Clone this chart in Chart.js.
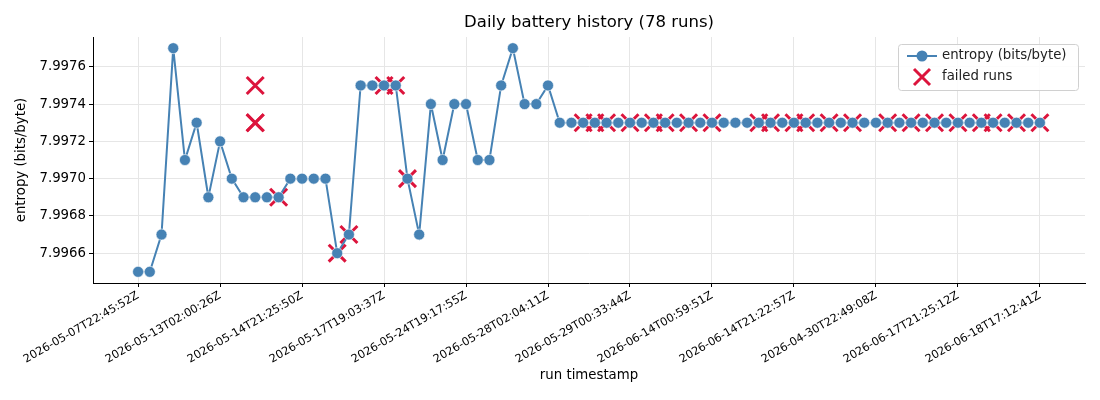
<!DOCTYPE html>
<html>
<head>
<meta charset="utf-8">
<title>Daily battery history</title>
<script src="https://cdn.jsdelivr.net/npm/chart.js@4.4.1/dist/chart.umd.min.js"></script>
<style>
  html, body { margin: 0; padding: 0; background: #fff; }
  #wrap { width: 1100px; height: 400px; position: relative; }
</style>
</head>
<body>
<div id="wrap"><canvas id="chart"></canvas></div>
<script>
// entropy per run, run index 0..77
var entropy = [
  7.9965, 7.9965, 7.9967, 7.9977, 7.9971, 7.9973, 7.9969, 7.9972, 7.9970, 7.9969,
  7.9969, 7.9969, 7.9969, 7.9970, 7.9970, 7.9970, 7.9970, 7.9966, 7.9967, 7.9975,
  7.9975, 7.9975, 7.9975, 7.9970, 7.9967, 7.9974, 7.9971, 7.9974, 7.9974, 7.9971,
  7.9971, 7.9975, 7.9977, 7.9974, 7.9974, 7.9975, 7.9973, 7.9973, 7.9973, 7.9973,
  7.9973, 7.9973, 7.9973, 7.9973, 7.9973, 7.9973, 7.9973, 7.9973, 7.9973, 7.9973,
  7.9973, 7.9973, 7.9973, 7.9973, 7.9973, 7.9973, 7.9973, 7.9973, 7.9973, 7.9973,
  7.9973, 7.9973, 7.9973, 7.9973, 7.9973, 7.9973, 7.9973, 7.9973, 7.9973, 7.9973,
  7.9973, 7.9973, 7.9973, 7.9973, 7.9973, 7.9973, 7.9973, 7.9973
];

// failed runs (run index + entropy where the cross sits)
var failedIdx = [10, 10, 10, 12, 17, 18, 21, 22, 23, 38, 39, 40, 42, 44, 45, 47, 49,
  53, 54, 56, 57, 59, 61, 64, 66, 68, 70, 72, 73, 75, 77];
var failedVal = [7.9975, 7.9973, 7.9973, 7.9969, 7.9966, 7.9967, 7.9975, 7.9975, 7.9970,
  7.9973, 7.9973, 7.9973, 7.9973, 7.9973, 7.9973, 7.9973, 7.9973,
  7.9973, 7.9973, 7.9973, 7.9973, 7.9973, 7.9973, 7.9973, 7.9973, 7.9973, 7.9973,
  7.9973, 7.9973, 7.9973, 7.9973];

// x tick labels, one every 7 runs
var tickRuns = [0, 7, 14, 21, 28, 35, 42, 49, 56, 63, 70, 77];
var tickLabels = [
  "2026-05-07T22:45:52Z", "2026-05-13T02:00:26Z", "2026-05-14T21:25:50Z",
  "2026-05-17T19:03:37Z", "2026-05-24T19:17:55Z", "2026-05-28T02:04:11Z",
  "2026-05-29T00:33:44Z", "2026-06-14T00:59:51Z", "2026-06-14T21:22:57Z",
  "2026-04-30T22:49:08Z", "2026-06-17T21:25:12Z", "2026-06-18T17:12:41Z"
];
var yTicks = [7.9966, 7.9968, 7.9970, 7.9972, 7.9974, 7.9976];

var chartTitle = "Daily battery history (78 runs)";

var FONT = "'DejaVu Sans', sans-serif";
var BLUE = "#4682b4";
var RED = "#dc143c";

var linePoints = entropy.map(function (v, i) { return { x: i, y: v }; });
var failPoints = failedIdx.map(function (ix, i) { return { x: ix, y: failedVal[i] }; });

// title centred over the axes + matplotlib-like legend box in the upper right
var boxLegend = {
  id: "boxLegend",
  afterDraw: function (chart) {
    var ctx = chart.ctx;
    var area = chart.chartArea;
    ctx.save();

    ctx.fillStyle = "#000";
    ctx.font = "16.5px " + FONT;
    ctx.textAlign = "center";
    ctx.textBaseline = "middle";
    ctx.fillText(chartTitle, (area.left + area.right) / 2, 23);
    ctx.textAlign = "left";

    var x0 = 898, y0 = 44, w = 180, h = 46;
    ctx.fillStyle = "rgba(255,255,255,0.85)";
    ctx.strokeStyle = "#d0d0d0";
    ctx.lineWidth = 1;
    ctx.beginPath();
    ctx.roundRect(x0 + 0.5, y0 + 0.5, w, h, 3);
    ctx.fill();
    ctx.stroke();

    // line + circle sample
    ctx.strokeStyle = BLUE;
    ctx.lineWidth = 2;
    ctx.beginPath();
    ctx.moveTo(907, 56);
    ctx.lineTo(937, 56);
    ctx.stroke();
    ctx.fillStyle = BLUE;
    ctx.beginPath();
    ctx.arc(922, 56, 5.5, 0, Math.PI * 2);
    ctx.fill();

    // cross sample
    ctx.strokeStyle = RED;
    ctx.lineWidth = 3;
    ctx.beginPath();
    ctx.moveTo(914, 69); ctx.lineTo(930, 85);
    ctx.moveTo(930, 69); ctx.lineTo(914, 85);
    ctx.stroke();

    ctx.fillStyle = "#222";
    ctx.font = "13.3px " + FONT;
    ctx.fillText("entropy (bits/byte)", 942, 56);
    ctx.fillText("failed runs", 942, 77);
    ctx.restore();
  }
};

new Chart(document.getElementById("chart"), {
  type: "line",
  data: {
    datasets: [
      {
        label: "entropy (bits/byte)",
        data: linePoints,
        borderColor: BLUE,
        backgroundColor: BLUE,
        borderWidth: 2,
        pointRadius: 5.5,
        pointBackgroundColor: BLUE,
        pointBorderColor: "#ffffff",
        pointBorderWidth: 0.6,
        tension: 0,
        order: 0
      },
      {
        type: "scatter",
        label: "failed runs",
        data: failPoints,
        showLine: false,
        pointStyle: "crossRot",
        pointRadius: 12,
        pointBorderWidth: 3,
        pointBorderColor: RED,
        borderColor: RED,
        backgroundColor: RED,
        order: 1
      }
    ]
  },
  options: {
    responsive: true,
    maintainAspectRatio: false,
    animation: false,
    layout: { padding: { left: 12, right: 15, top: 37, bottom: 14 } },
    plugins: {
      legend: { display: false },
      tooltip: { enabled: false },
      title: { display: false }
    },
    scales: {
      x: {
        type: "linear",
        min: -3.85,
        max: 80.85,
        afterBuildTicks: function (scale) {
          scale.ticks = tickRuns.map(function (v) { return { value: v }; });
        },
        afterFit: function (scale) { scale.height = 103; },
        ticks: {
          autoSkip: false,
          minRotation: 30,
          maxRotation: 30,
          color: "#000",
          padding: 2,
          font: { family: FONT, size: 11.3 },
          callback: function (v) {
            var k = tickRuns.indexOf(v);
            return k >= 0 ? tickLabels[k] : "";
          }
        },
        grid: { color: "#e6e6e6", tickColor: "#000", tickLength: 4, lineWidth: 1 },
        border: { display: true, color: "#000", width: 1 },
        title: {
          display: true,
          text: "run timestamp",
          color: "#000",
          font: { family: FONT, size: 13.3 },
          padding: { top: 2, bottom: 2 }
        }
      },
      y: {
        type: "linear",
        min: 7.99644,
        max: 7.99776,
        afterBuildTicks: function (scale) {
          scale.ticks = yTicks.map(function (v) { return { value: v }; });
        },
        afterFit: function (scale) { scale.width = 81; },
        ticks: {
          color: "#000",
          padding: 3,
          font: { family: FONT, size: 13.3 },
          callback: function (v) { return Number(v).toFixed(4); }
        },
        grid: { color: "#e6e6e6", tickColor: "#000", tickLength: 4, lineWidth: 1 },
        border: { display: true, color: "#000", width: 1 },
        title: {
          display: true,
          text: "entropy (bits/byte)",
          color: "#000",
          font: { family: FONT, size: 13.3 },
          padding: { top: 2, bottom: 2 }
        }
      }
    }
  },
  plugins: [boxLegend]
});
</script>
</body>
</html>
